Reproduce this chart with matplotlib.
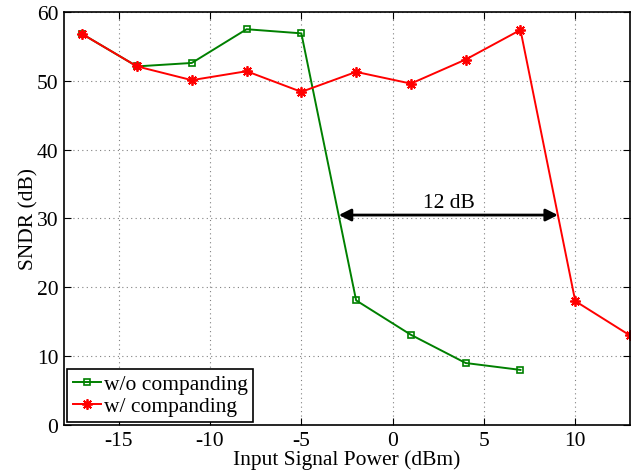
import matplotlib.pyplot as plt
import numpy as np

plt.rcParams['font.family'] = ['Liberation Serif', 'DejaVu Serif']
plt.rcParams['font.size'] = 15.5
plt.rcParams['axes.unicode_minus'] = False

x_wo = [-17, -14, -11, -8, -5, -2, 1, 4, 7]
sndr_wo = [56.8, 52.1, 52.6, 57.5, 56.9, 18.1, 13.1, 9.0, 8.0]

x_w = [-17, -14, -11, -8, -5, -2, 1, 4, 7, 10, 13]
sndr_w = [56.8, 52.1, 50.1, 51.4, 48.4, 51.3, 49.6, 53.1, 57.4, 18.0, 13.0]

fig = plt.figure(figsize=(6.36, 4.77), dpi=100)
ax = fig.add_axes([0.1006, 0.107, 0.8900, 0.8657])

ax.plot(x_wo, sndr_wo, color=(0, 0.5, 0), lw=1.4, marker='s', ms=4,
        mfc='none', mew=1.2, label='w/o companding')
ax.plot(x_w, sndr_w, color='red', lw=1.4, marker=(8, 2, 0), ms=7.5,
        mew=1.3, label='w/ companding')

ax.annotate('', xy=(-2.95, 30.5), xytext=(9.05, 30.5),
            arrowprops=dict(arrowstyle='<|-|>', color='black', lw=2,
                            mutation_scale=18, shrinkA=0, shrinkB=0))
ax.text(3.1, 30.9, '12 dB', ha='center', va='bottom')

ax.set_xlim(-18, 13)
ax.set_ylim(0, 60)
ax.set_xticks([-15, -10, -5, 0, 5, 10])
ax.set_yticks(np.arange(0, 61, 10))
ax.grid(True, ls=(0, (1, 3)), color='gray', lw=0.8)
ax.tick_params(direction='in', top=True, right=True, length=5, pad=4)
for s in ax.spines.values():
    s.set_linewidth(1.2)

ax.set_xlabel('Input Signal Power (dBm)', labelpad=0)
ax.set_ylabel('SNDR (dB)', labelpad=-1)

leg = ax.legend(loc='lower left', fancybox=False, edgecolor='black',
                framealpha=1, borderaxespad=0.15, handlelength=1.3,
                handletextpad=0.15, borderpad=0.25, labelspacing=0.1)
leg.get_frame().set_linewidth(1.2)

plt.savefig('out.png', dpi=100)
